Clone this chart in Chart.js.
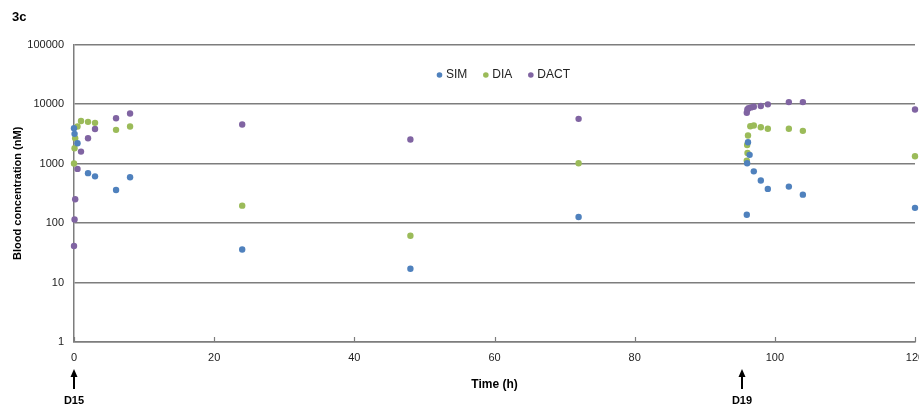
<!DOCTYPE html>
<html>
<head>
<meta charset="utf-8">
<script src="https://cdn.jsdelivr.net/npm/chart.js@4.4.1/dist/chart.umd.min.js"></script>
<style>
  html, body { margin: 0; padding: 0; background: #fff; overflow: hidden; }
  #wrap { width: 945px; height: 408px; }
</style>
</head>
<body>
<div id="wrap"><canvas id="chart" width="945" height="408"></canvas></div>
<script>
// Sampling times (h) and blood concentrations (nM)
const simTime = [0, 0.08, 0.5, 2, 3, 6, 8, 24, 48, 72, 96, 96.05, 96.17, 96.4, 97, 98, 99, 102, 104, 120];
const simConc = [3930, 3160, 2200, 690, 610, 360, 590, 36, 17, 126, 138, 1010, 2280, 1400, 740, 520, 375, 410, 300, 180];

const diaTime = [0, 0.08, 0.17, 0.5, 1, 2, 3, 6, 8, 24, 48, 72, 96, 96.1, 96.05, 96.17, 96.5, 97, 98, 99, 102, 104, 120];
const diaConc = [1000, 1810, 2670, 4200, 5200, 5030, 4840, 3690, 4200, 196, 61, 1010, 1120, 1510, 2050, 2960, 4250, 4360, 4080, 3840, 3840, 3550, 1330];

const dactTime = [0, 0.08, 0.17, 0.5, 1, 2, 3, 6, 8, 24, 48, 72, 96, 96.08, 96.25, 96.6, 97, 98, 99, 102, 104, 120];
const dactConc = [41, 115, 251, 814, 1590, 2670, 3800, 5790, 6950, 4540, 2540, 5650, 7140, 8110, 8500, 8800, 9000, 9300, 9900, 10800, 10800, 8110];

const seriesNames = ['SIM', 'DIA', 'DACT'];
const seriesColors = ['#4F81BD', '#9BBB59', '#8064A2'];

// Dosing marks under the time axis
const doseTimes = [0, 95.3];
const doseLabels = ['D15', 'D19'];

const xTicks = [0, 20, 40, 60, 80, 100, 120];
const yTicks = [1, 10, 100, 1000, 10000, 100000];

const gridColor = '#7d7d7d';

Chart.defaults.font.family = "'Liberation Sans', Arial, sans-serif";
Chart.defaults.font.size = 11;
Chart.defaults.color = '#222';

function toPoints(times, values) {
  return times.map((t, i) => ({ x: t, y: values[i] }));
}

// small tick marks pointing up from the time axis
const innerTicks = {
  id: 'innerTicks',
  afterDraw(chart) {
    const { ctx, scales: { x }, chartArea } = chart;
    ctx.save();
    ctx.strokeStyle = gridColor;
    ctx.lineWidth = 1.2;
    xTicks.forEach((v) => {
      const px = Math.round(x.getPixelForValue(v)) + 0.5;
      ctx.beginPath();
      ctx.moveTo(px, chartArea.bottom);
      ctx.lineTo(px, chartArea.bottom - 5);
      ctx.stroke();
    });
    ctx.restore();
  }
};

// arrows + day labels under the axis
const doseMarks = {
  id: 'doseMarks',
  afterDraw(chart) {
    const { ctx, scales: { x } } = chart;
    ctx.save();
    ctx.fillStyle = '#000';
    ctx.strokeStyle = '#000';
    doseTimes.forEach((t, i) => {
      const px = Math.round(x.getPixelForValue(t));
      ctx.lineWidth = 2;
      ctx.beginPath();
      ctx.moveTo(px, 375);
      ctx.lineTo(px, 389);
      ctx.stroke();
      ctx.beginPath();
      ctx.moveTo(px, 369);
      ctx.lineTo(px - 3.5, 377);
      ctx.lineTo(px + 3.5, 377);
      ctx.closePath();
      ctx.fill();
      ctx.font = "bold 11px 'Liberation Sans', Arial, sans-serif";
      ctx.textAlign = 'center';
      ctx.textBaseline = 'middle';
      ctx.fillText(doseLabels[i], px, 401);
    });
    ctx.restore();
  }
};

// legend inside the plot, near the top
const innerLegend = {
  id: 'innerLegend',
  afterDraw(chart) {
    const { ctx, chartArea } = chart;
    ctx.save();
    ctx.font = "12px 'Liberation Sans', Arial, sans-serif";
    ctx.textBaseline = 'middle';
    const dotGap = 7, itemGap = 18;
    const widths = seriesNames.map((n) => dotGap + ctx.measureText(n).width);
    const total = widths.reduce((a, b) => a + b, 0) + itemGap * (seriesNames.length - 1);
    let cx = (chartArea.left + chartArea.right) / 2 + 8 - total / 2;
    const cy = 75;
    seriesNames.forEach((n, i) => {
      ctx.fillStyle = seriesColors[i];
      ctx.beginPath();
      ctx.arc(cx + 2.5, cy, 2.8, 0, Math.PI * 2);
      ctx.fill();
      ctx.fillStyle = '#222';
      ctx.fillText(n, cx + dotGap + 2, cy);
      cx += widths[i] + itemGap;
    });
    ctx.restore();
  }
};

const seriesData = [
  toPoints(simTime, simConc),
  toPoints(diaTime, diaConc),
  toPoints(dactTime, dactConc)
];

new Chart(document.getElementById('chart'), {
  type: 'scatter',
  data: {
    datasets: seriesNames.map((name, i) => ({
      label: name,
      data: seriesData[i],
      backgroundColor: seriesColors[i],
      borderColor: seriesColors[i],
      pointRadius: 3.2,
      pointBorderWidth: 0,
      clip: false
    }))
  },
  options: {
    responsive: false,
    animation: false,
    devicePixelRatio: 1,
    layout: { padding: { left: 12, right: 30, top: 0, bottom: 0 } },
    plugins: {
      legend: { display: false },
      tooltip: { enabled: false },
      title: {
        display: true,
        text: '3c',
        align: 'start',
        color: '#000',
        font: { size: 13, weight: 'bold' },
        padding: { top: 10, bottom: 19 }
      }
    },
    scales: {
      x: {
        type: 'linear',
        min: 0,
        max: 120,
        afterBuildTicks: (s) => { s.ticks = xTicks.map((v) => ({ value: v })); },
        afterFit: (s) => { s.height = 66; },
        grid: { display: false, drawTicks: false },
        border: { display: true, color: gridColor, width: 1.5 },
        ticks: { padding: 9, maxRotation: 0, color: '#222' },
        title: {
          display: true,
          text: 'Time (h)',
          color: '#000',
          font: { size: 12, weight: 'bold' },
          padding: { top: 0, bottom: 16 }
        }
      },
      y: {
        type: 'logarithmic',
        min: 1,
        max: 100000,
        afterBuildTicks: (s) => { s.ticks = yTicks.map((v) => ({ value: v })); },
        afterFit: (s) => { s.width = 62; },
        grid: { color: gridColor, lineWidth: 1.5, drawTicks: false },
        border: { display: true, color: gridColor, width: 1.5 },
        ticks: { padding: 10, color: '#222', callback: (v) => String(v) },
        title: {
          display: true,
          text: 'Blood concentration (nM)',
          color: '#000',
          font: { size: 11, weight: 'bold', lineHeight: 1 },
          padding: { top: 0, bottom: 0 }
        }
      }
    }
  },
  plugins: [innerTicks, doseMarks, innerLegend]
});
</script>
</body>
</html>
